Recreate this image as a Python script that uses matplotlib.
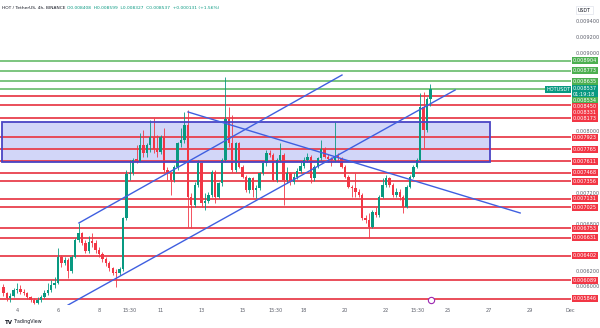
import numpy as np
import matplotlib.pyplot as plt
from matplotlib.patches import Rectangle
import matplotlib.transforms as mtransforms

# HOT/USDT, свечи 4h начиная с 3 ноября 08:00
opens = [0.006004, 0.005919, 0.005854, 0.005884, 0.005961, 0.005970, 0.005940, 0.005919, 0.005867, 0.005833,
         0.005799, 0.005833, 0.005867, 0.005919, 0.005961, 0.006025, 0.006055, 0.006380, 0.006312, 0.006346,
         0.006209, 0.006389, 0.006602, 0.006688, 0.006568, 0.006466, 0.006581, 0.006568, 0.006474, 0.006423,
         0.006355, 0.006303, 0.006239, 0.006184, 0.006175, 0.006226, 0.006880, 0.007448, 0.007466, 0.007628,
         0.007620, 0.007820, 0.007713, 0.007820, 0.007927, 0.007765, 0.007735, 0.007927, 0.007500, 0.007466,
         0.007372, 0.007534, 0.007842, 0.007884, 0.008077, 0.007158, 0.007051, 0.007307, 0.007585, 0.007072,
         0.007107, 0.007179, 0.007478, 0.007158, 0.007329, 0.007628, 0.008149, 0.007842, 0.007500, 0.007842,
         0.007543, 0.007414, 0.007243, 0.007393, 0.007243, 0.007265, 0.007457, 0.007585, 0.007713, 0.007692,
         0.007372, 0.007628, 0.007692, 0.007372, 0.007457, 0.007350, 0.007414, 0.007491, 0.007551, 0.007628,
         0.007671, 0.007393, 0.007543, 0.007649, 0.007765, 0.007671, 0.007637, 0.007628, 0.007679, 0.007649,
         0.007543, 0.007414, 0.007286, 0.007265, 0.007222, 0.007179, 0.006880, 0.006859, 0.006773, 0.006966,
         0.006923, 0.007158, 0.007307, 0.007393, 0.007307, 0.007179, 0.007222, 0.007158, 0.007030, 0.007286,
         0.007414, 0.007543, 0.007628, 0.008312, 0.008013, 0.008408]
highs = [0.006038, 0.005940, 0.005919, 0.005983, 0.006047, 0.006025, 0.005970, 0.005940, 0.005884, 0.005854,
         0.005867, 0.005897, 0.005961, 0.006055, 0.006090, 0.006132, 0.006496, 0.006410, 0.006380, 0.006367,
         0.006410, 0.006624, 0.006825, 0.006709, 0.006602, 0.006654, 0.006688, 0.006602, 0.006508, 0.006453,
         0.006380, 0.006337, 0.006260, 0.006226, 0.006260, 0.006902, 0.007500, 0.007628, 0.007649, 0.007820,
         0.007970, 0.008013, 0.007850, 0.008141, 0.008162, 0.007949, 0.007949, 0.008034, 0.007543, 0.007478,
         0.007564, 0.007863, 0.008034, 0.008248, 0.008269, 0.007201, 0.007350, 0.007628, 0.007607, 0.007201,
         0.007222, 0.007500, 0.007500, 0.007350, 0.007649, 0.008696, 0.008312, 0.008205, 0.007863, 0.007863,
         0.007564, 0.007436, 0.007414, 0.007414, 0.007307, 0.007478, 0.007607, 0.007756, 0.007756, 0.007713,
         0.007649, 0.007842, 0.007713, 0.007543, 0.007478, 0.007457, 0.007521, 0.007607, 0.007671, 0.007713,
         0.007692, 0.007564, 0.007671, 0.007884, 0.007799, 0.007705, 0.007671, 0.008119, 0.007713, 0.007671,
         0.007564, 0.007436, 0.007307, 0.007457, 0.007252, 0.007201, 0.006923, 0.006944, 0.006987, 0.007030,
         0.007179, 0.007393, 0.007436, 0.007414, 0.007329, 0.007265, 0.007252, 0.007179, 0.007307, 0.007436,
         0.007564, 0.007649, 0.008483, 0.008504, 0.008440, 0.008599]
lows = [0.005884, 0.005825, 0.005812, 0.005867, 0.005927, 0.005910, 0.005897, 0.005842, 0.005808, 0.005782,
        0.005782, 0.005812, 0.005854, 0.005897, 0.005940, 0.005983, 0.006038, 0.006252, 0.006282, 0.006111,
        0.006175, 0.006367, 0.006581, 0.006538, 0.006431, 0.006440, 0.006517, 0.006440, 0.006389, 0.006325,
        0.006269, 0.006209, 0.006154, 0.006004, 0.006154, 0.006209, 0.006859, 0.007372, 0.007436, 0.007585,
        0.007607, 0.007671, 0.007671, 0.007735, 0.007713, 0.007671, 0.007705, 0.007478, 0.007372, 0.007179,
        0.007350, 0.007500, 0.007799, 0.007842, 0.006773, 0.006752, 0.007030, 0.007286, 0.007030, 0.006987,
        0.007072, 0.007158, 0.007072, 0.007137, 0.007295, 0.007607, 0.007799, 0.007478, 0.007478, 0.007521,
        0.007393, 0.007222, 0.007201, 0.007158, 0.007137, 0.007243, 0.007436, 0.007551, 0.007671, 0.007363,
        0.007350, 0.007607, 0.007051, 0.007329, 0.007307, 0.007320, 0.007380, 0.007466, 0.007521, 0.007607,
        0.007329, 0.007363, 0.007521, 0.007628, 0.007649, 0.007607, 0.007551, 0.007607, 0.007607, 0.007521,
        0.007393, 0.007265, 0.007158, 0.007158, 0.007149, 0.006859, 0.006816, 0.006624, 0.006752, 0.006902,
        0.006902, 0.007137, 0.007286, 0.007286, 0.007158, 0.007149, 0.007115, 0.006944, 0.007008, 0.007265,
        0.007393, 0.007521, 0.007607, 0.007778, 0.007991, 0.008327]
closes = [0.005919, 0.005854, 0.005884, 0.005961, 0.005970, 0.005940, 0.005919, 0.005867, 0.005833, 0.005799,
          0.005833, 0.005867, 0.005919, 0.005961, 0.006025, 0.006055, 0.006380, 0.006312, 0.006346, 0.006209,
          0.006389, 0.006602, 0.006688, 0.006568, 0.006466, 0.006581, 0.006568, 0.006474, 0.006423, 0.006355,
          0.006303, 0.006239, 0.006184, 0.006175, 0.006226, 0.006880, 0.007448, 0.007466, 0.007628, 0.007620,
          0.007820, 0.007713, 0.007820, 0.007927, 0.007765, 0.007735, 0.007927, 0.007500, 0.007466, 0.007372,
          0.007534, 0.007842, 0.007884, 0.008077, 0.007158, 0.007051, 0.007307, 0.007585, 0.007072, 0.007107,
          0.007179, 0.007478, 0.007158, 0.007329, 0.007628, 0.008149, 0.007842, 0.007500, 0.007842, 0.007543,
          0.007414, 0.007243, 0.007393, 0.007243, 0.007265, 0.007457, 0.007585, 0.007713, 0.007692, 0.007372,
          0.007628, 0.007692, 0.007372, 0.007457, 0.007350, 0.007414, 0.007491, 0.007551, 0.007628, 0.007671,
          0.007393, 0.007543, 0.007649, 0.007765, 0.007671, 0.007637, 0.007628, 0.007679, 0.007649, 0.007543,
          0.007414, 0.007286, 0.007265, 0.007222, 0.007179, 0.006880, 0.006859, 0.006773, 0.006966, 0.006923,
          0.007158, 0.007307, 0.007393, 0.007307, 0.007179, 0.007222, 0.007158, 0.007030, 0.007286, 0.007414,
          0.007543, 0.007628, 0.008312, 0.008013, 0.008406, 0.008537]

# Уровни
green_levels = [0.008904, 0.008773, 0.008635, 0.008534]
red_levels = [0.008450, 0.008331, 0.008173, 0.007923, 0.007765, 0.007611, 0.007468, 0.007356,
              0.007131, 0.007025, 0.006753, 0.006631, 0.006402, 0.006089, 0.005846]
last_price = 0.008537
countdown = "01:19:18"

# Зона и трендовые линии (день ноября, цена)
zone_days = [3.25, 27.07]
zone_prices = [0.007603, 0.008112]
trend_lines = [([6.49, 25.37], [0.005769, 0.008526]),
               ([7.02, 19.85], [0.006821, 0.008718]),
               ([12.34, 28.54], [0.008244, 0.006949])]

x_ticks = [4, 6, 8, 9.5, 11, 13, 15, 16.6, 18, 20, 22, 23.55, 25, 27, 29, 31]
x_tick_labels = ['4', '6', '8', '15:30', '11', '13', '15', '15:30', '18', '20', '22', '15:30',
                 '25', '27', '29', 'Dec']
price_ticks = [0.0094, 0.0092, 0.0090, 0.0080, 0.0072, 0.0068, 0.0062, 0.0060]

UP = '#089981'
DOWN = '#f23645'
GREEN = '#4caf50'
TXT = '#5d606b'

W, H = 600, 328
fig = plt.figure(figsize=(W / 100, H / 100), dpi=100)
ax = fig.add_axes([0, 23 / H, 571 / W, 305 / H])
ymin, ymax = 0.005769, 0.009680
ax.set_xlim(3.17, 31.02)
ax.set_ylim(ymin, ymax)
px = 305 / (ymax - ymin)  # пикселей на единицу цены

# Свечи
o = np.array(opens)
c = np.array(closes)
t = 3 + 8 / 24 + np.arange(len(o)) * 4 / 24
cols = np.where(c >= o, UP, DOWN)
ax.vlines(t, lows, highs, colors=cols, lw=0.6, zorder=3)
body = np.abs(c - o)
body = np.maximum(body, 1.2 / px)
ax.bar(t, body, bottom=np.minimum(o, c), width=0.7 * 4 / 24, color=cols, zorder=4, linewidth=0)

# Горизонтальные уровни
for p in green_levels:
    ax.axhline(p, color='#66bb6a', lw=1.2, zorder=2)
for p in red_levels:
    ax.axhline(p, color='#e8404d', lw=1.3, zorder=2)

# Зона
ax.add_patch(Rectangle((zone_days[0], zone_prices[0]), zone_days[1] - zone_days[0],
                       zone_prices[1] - zone_prices[0], fc='#d2d6f8', ec='none', zorder=1))
ax.add_patch(Rectangle((zone_days[0], zone_prices[0]), zone_days[1] - zone_days[0],
                       zone_prices[1] - zone_prices[0], fc='none', ec='#4a44c4', lw=1.3, zorder=5))

# Трендовые линии
for xs, ys in trend_lines:
    ax.plot(xs, ys, color='#3f5fe0', lw=1.0, zorder=5)

# Событие внизу
ax.plot([24.2], [0.005833], 'o', ms=4.5, mfc='white', mec='#9c27b0', mew=0.8, zorder=6, clip_on=False)

for s in ax.spines.values():
    s.set_visible(False)
ax.set_xticks([])
ax.set_yticks([])

# Подписи шкалы цен
for p in price_ticks:
    ax.text(1.008, (p - ymin) / (ymax - ymin), f"{p:.6f}", transform=ax.transAxes, ha='left',
            va='center', fontsize=3.6, color=TXT, clip_on=False, zorder=1)

# Метки уровней справа (сдвигаются вниз, чтобы не перекрываться)
labels = [(p, f"{p:.6f}", GREEN) for p in green_levels]
labels += [(p, f"{p:.6f}", DOWN) for p in red_levels]
labels.append((last_price, f"{last_price:.6f}\n{countdown}", UP))
labels.sort(key=lambda l: -l[0])
bottom = -100
for p, txt, col in labels:
    n = txt.count('\n') + 1
    h = 6.2 + (n - 1) * 4.8
    top = max((ymax - p) * px - 3.1, bottom)
    bottom = top + h
    yc = top + h / 2
    ax.text(1.0035, 1 - yc / 305, txt, transform=ax.transAxes, ha='left', va='center',
            fontsize=3.6, color='white', linespacing=1.1, clip_on=False, zorder=10,
            bbox=dict(boxstyle='square,pad=0.2', fc=col, ec='none'))
    if n == 2:
        ax.text(0.9985, 1 - (top + 3.1) / 305, "HOTUSDT", transform=ax.transAxes, ha='right',
                va='center', fontsize=3.6, color='white', zorder=10,
                bbox=dict(boxstyle='square,pad=0.2', fc=col, ec='none'))

# Ось времени
for xt, lab in zip(x_ticks, x_tick_labels):
    ax.text(xt, -5 / 305, lab, transform=mtransforms.blended_transform_factory(ax.transData, ax.transAxes),
            ha='center', va='center', fontsize=3.6, color=TXT, clip_on=False)

# Заголовок
ax.text(0.004, 1 - 8 / 305, "HOT / TetherUS, 4h, BINANCE", transform=ax.transAxes, ha='left',
        va='center', fontsize=3.2, color='#131722')
ax.text(0.118, 1 - 8 / 305, "O0.008408  H0.008599  L0.008327  C0.008537  +0.000131 (+1.56%)",
        transform=ax.transAxes, ha='left', va='center', fontsize=3.2, color=UP)
fig.text(578 / W, 1 - 10 / H, "USDT", ha='left', va='center', fontsize=3.4, color='#131722',
         bbox=dict(boxstyle='square,pad=0.4', fc='white', ec='#e0e3eb', lw=0.5))
fig.text(5 / W, 1 - 322 / H, "TV", ha='left', va='center', fontsize=4, color='#131722', weight='bold')
fig.text(14 / W, 1 - 322 / H, "TradingView", ha='left', va='center', fontsize=3.4, color='#131722')

fig.savefig('out.png', dpi=100, facecolor='white')
